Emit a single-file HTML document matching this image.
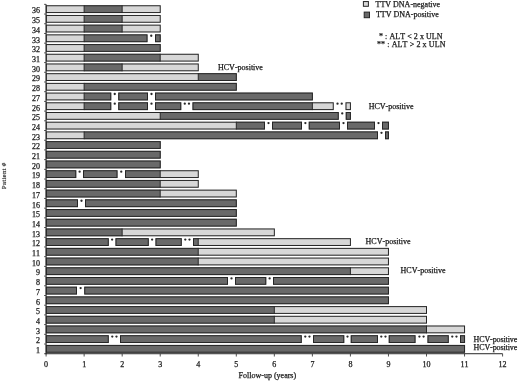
<!DOCTYPE html>
<html><head><meta charset="utf-8"><title>TTV follow-up chart</title>
<style>
html,body{margin:0;padding:0;background:#fff;}
body{width:520px;height:381px;overflow:hidden;}
svg{display:block;filter:grayscale(1);}
text{font-family:"Liberation Serif",serif;font-size:8px;font-kerning:none;fill:#1a1a1a;stroke:#1a1a1a;stroke-width:0.25px;}
</style></head>
<body>
<svg width="520" height="381" viewBox="0 0 520 381">
<rect width="520" height="381" fill="#fff"/>
<rect x="45.8" y="5.25" width="38.34" height="7.8" fill="#d7d7d7"/>
<rect x="84.14" y="5.25" width="38.04" height="7.8" fill="#696969"/>
<rect x="122.18" y="5.25" width="38.54" height="7.8" fill="#d7d7d7"/>
<line x1="84.14" y1="5.25" x2="84.14" y2="13.05" stroke="#262626" stroke-width="1"/>
<line x1="122.18" y1="5.25" x2="122.18" y2="13.05" stroke="#262626" stroke-width="1"/>
<rect x="46.3" y="5.75" width="113.92" height="6.8" fill="none" stroke="#262626" stroke-width="1"/>
<rect x="45.8" y="14.96" width="38.34" height="7.8" fill="#d7d7d7"/>
<rect x="84.14" y="14.96" width="38.04" height="7.8" fill="#696969"/>
<rect x="122.18" y="14.96" width="38.54" height="7.8" fill="#d7d7d7"/>
<line x1="84.14" y1="14.96" x2="84.14" y2="22.75" stroke="#262626" stroke-width="1"/>
<line x1="122.18" y1="14.96" x2="122.18" y2="22.75" stroke="#262626" stroke-width="1"/>
<rect x="46.3" y="15.46" width="113.92" height="6.8" fill="none" stroke="#262626" stroke-width="1"/>
<rect x="45.8" y="24.66" width="38.34" height="7.8" fill="#d7d7d7"/>
<rect x="84.14" y="24.66" width="38.04" height="7.8" fill="#696969"/>
<rect x="122.18" y="24.66" width="38.54" height="7.8" fill="#d7d7d7"/>
<line x1="84.14" y1="24.66" x2="84.14" y2="32.46" stroke="#262626" stroke-width="1"/>
<line x1="122.18" y1="24.66" x2="122.18" y2="32.46" stroke="#262626" stroke-width="1"/>
<rect x="46.3" y="25.16" width="113.92" height="6.8" fill="none" stroke="#262626" stroke-width="1"/>
<rect x="45.8" y="34.37" width="38.34" height="7.8" fill="#d7d7d7"/>
<rect x="84.14" y="34.37" width="63.36" height="7.8" fill="#696969"/>
<line x1="84.14" y1="34.37" x2="84.14" y2="42.16" stroke="#262626" stroke-width="1"/>
<rect x="46.3" y="34.87" width="100.7" height="6.8" fill="none" stroke="#262626" stroke-width="1"/>
<rect x="155" y="34.37" width="5.72" height="7.8" fill="#696969"/>
<rect x="155.5" y="34.87" width="4.72" height="6.8" fill="none" stroke="#262626" stroke-width="1"/>
<circle cx="151.25" cy="35.77" r="1.15" fill="#282828"/>
<rect x="45.8" y="44.07" width="38.34" height="7.8" fill="#d7d7d7"/>
<rect x="84.14" y="44.07" width="76.58" height="7.8" fill="#696969"/>
<line x1="84.14" y1="44.07" x2="84.14" y2="51.87" stroke="#262626" stroke-width="1"/>
<rect x="46.3" y="44.57" width="113.92" height="6.8" fill="none" stroke="#262626" stroke-width="1"/>
<rect x="45.8" y="53.77" width="38.34" height="7.8" fill="#d7d7d7"/>
<rect x="84.14" y="53.77" width="76.08" height="7.8" fill="#696969"/>
<rect x="160.22" y="53.77" width="38.54" height="7.8" fill="#d7d7d7"/>
<line x1="84.14" y1="53.77" x2="84.14" y2="61.57" stroke="#262626" stroke-width="1"/>
<line x1="160.22" y1="53.77" x2="160.22" y2="61.57" stroke="#262626" stroke-width="1"/>
<rect x="46.3" y="54.27" width="151.96" height="6.8" fill="none" stroke="#262626" stroke-width="1"/>
<rect x="45.8" y="63.48" width="38.34" height="7.8" fill="#d7d7d7"/>
<rect x="84.14" y="63.48" width="38.04" height="7.8" fill="#696969"/>
<rect x="122.18" y="63.48" width="76.58" height="7.8" fill="#d7d7d7"/>
<line x1="84.14" y1="63.48" x2="84.14" y2="71.28" stroke="#262626" stroke-width="1"/>
<line x1="122.18" y1="63.48" x2="122.18" y2="71.28" stroke="#262626" stroke-width="1"/>
<rect x="46.3" y="63.98" width="151.96" height="6.8" fill="none" stroke="#262626" stroke-width="1"/>
<rect x="45.8" y="73.19" width="152.46" height="7.8" fill="#d7d7d7"/>
<rect x="198.26" y="73.19" width="38.54" height="7.8" fill="#696969"/>
<line x1="198.26" y1="73.19" x2="198.26" y2="80.98" stroke="#262626" stroke-width="1"/>
<rect x="46.3" y="73.69" width="190" height="6.8" fill="none" stroke="#262626" stroke-width="1"/>
<rect x="45.8" y="82.89" width="38.34" height="7.8" fill="#d7d7d7"/>
<rect x="84.14" y="82.89" width="152.66" height="7.8" fill="#696969"/>
<line x1="84.14" y1="82.89" x2="84.14" y2="90.69" stroke="#262626" stroke-width="1"/>
<rect x="46.3" y="83.39" width="190" height="6.8" fill="none" stroke="#262626" stroke-width="1"/>
<rect x="45.8" y="92.59" width="38.34" height="7.8" fill="#d7d7d7"/>
<rect x="84.14" y="92.59" width="27.11" height="7.8" fill="#696969"/>
<line x1="84.14" y1="92.59" x2="84.14" y2="100.39" stroke="#262626" stroke-width="1"/>
<rect x="46.3" y="93.09" width="64.45" height="6.8" fill="none" stroke="#262626" stroke-width="1"/>
<rect x="118.25" y="92.59" width="29.75" height="7.8" fill="#696969"/>
<rect x="118.75" y="93.09" width="28.75" height="6.8" fill="none" stroke="#262626" stroke-width="1"/>
<rect x="155" y="92.59" width="157.88" height="7.8" fill="#696969"/>
<rect x="155.5" y="93.09" width="156.88" height="6.8" fill="none" stroke="#262626" stroke-width="1"/>
<circle cx="114.75" cy="94" r="1.15" fill="#282828"/>
<circle cx="151.5" cy="94" r="1.15" fill="#282828"/>
<rect x="45.8" y="102.3" width="38.34" height="7.8" fill="#d7d7d7"/>
<rect x="84.14" y="102.3" width="27.11" height="7.8" fill="#696969"/>
<line x1="84.14" y1="102.3" x2="84.14" y2="110.1" stroke="#262626" stroke-width="1"/>
<rect x="46.3" y="102.8" width="64.45" height="6.8" fill="none" stroke="#262626" stroke-width="1"/>
<rect x="118.25" y="102.3" width="29.75" height="7.8" fill="#696969"/>
<rect x="118.75" y="102.8" width="28.75" height="6.8" fill="none" stroke="#262626" stroke-width="1"/>
<rect x="155" y="102.3" width="26.25" height="7.8" fill="#696969"/>
<rect x="155.5" y="102.8" width="25.25" height="6.8" fill="none" stroke="#262626" stroke-width="1"/>
<rect x="192.5" y="102.3" width="119.88" height="7.8" fill="#696969"/>
<rect x="312.38" y="102.3" width="21.37" height="7.8" fill="#d7d7d7"/>
<line x1="312.38" y1="102.3" x2="312.38" y2="110.1" stroke="#262626" stroke-width="1"/>
<rect x="193" y="102.8" width="140.25" height="6.8" fill="none" stroke="#262626" stroke-width="1"/>
<rect x="345.5" y="102.3" width="5.42" height="7.8" fill="#d7d7d7"/>
<rect x="346" y="102.8" width="4.42" height="6.8" fill="none" stroke="#262626" stroke-width="1"/>
<circle cx="114.75" cy="103.7" r="1.15" fill="#282828"/>
<circle cx="151.5" cy="103.7" r="1.15" fill="#282828"/>
<circle cx="184.78" cy="103.7" r="1.15" fill="#282828"/>
<circle cx="188.97" cy="103.7" r="1.15" fill="#282828"/>
<circle cx="337.52" cy="103.7" r="1.15" fill="#282828"/>
<circle cx="341.73" cy="103.7" r="1.15" fill="#282828"/>
<rect x="45.8" y="112" width="114.42" height="7.8" fill="#d7d7d7"/>
<rect x="160.22" y="112" width="178.53" height="7.8" fill="#696969"/>
<line x1="160.22" y1="112" x2="160.22" y2="119.8" stroke="#262626" stroke-width="1"/>
<rect x="46.3" y="112.5" width="291.95" height="6.8" fill="none" stroke="#262626" stroke-width="1"/>
<rect x="345.75" y="112" width="5.17" height="7.8" fill="#696969"/>
<rect x="346.25" y="112.5" width="4.17" height="6.8" fill="none" stroke="#262626" stroke-width="1"/>
<circle cx="342.25" cy="113.41" r="1.15" fill="#282828"/>
<rect x="45.8" y="121.71" width="190.5" height="7.8" fill="#d7d7d7"/>
<rect x="236.3" y="121.71" width="28.7" height="7.8" fill="#696969"/>
<line x1="236.3" y1="121.71" x2="236.3" y2="129.51" stroke="#262626" stroke-width="1"/>
<rect x="46.3" y="122.21" width="218.2" height="6.8" fill="none" stroke="#262626" stroke-width="1"/>
<rect x="272" y="121.71" width="30" height="7.8" fill="#696969"/>
<rect x="272.5" y="122.21" width="29" height="6.8" fill="none" stroke="#262626" stroke-width="1"/>
<rect x="308.75" y="121.71" width="31.25" height="7.8" fill="#696969"/>
<rect x="309.25" y="122.21" width="30.25" height="6.8" fill="none" stroke="#262626" stroke-width="1"/>
<rect x="347" y="121.71" width="28" height="7.8" fill="#696969"/>
<rect x="347.5" y="122.21" width="27" height="6.8" fill="none" stroke="#262626" stroke-width="1"/>
<rect x="382" y="121.71" width="6.96" height="7.8" fill="#696969"/>
<rect x="382.5" y="122.21" width="5.96" height="6.8" fill="none" stroke="#262626" stroke-width="1"/>
<circle cx="268.5" cy="123.11" r="1.15" fill="#282828"/>
<circle cx="305.38" cy="123.11" r="1.15" fill="#282828"/>
<circle cx="343.5" cy="123.11" r="1.15" fill="#282828"/>
<circle cx="378.5" cy="123.11" r="1.15" fill="#282828"/>
<rect x="45.8" y="131.42" width="38.34" height="7.8" fill="#d7d7d7"/>
<rect x="84.14" y="131.42" width="293.86" height="7.8" fill="#696969"/>
<line x1="84.14" y1="131.42" x2="84.14" y2="139.22" stroke="#262626" stroke-width="1"/>
<rect x="46.3" y="131.92" width="331.2" height="6.8" fill="none" stroke="#262626" stroke-width="1"/>
<rect x="385" y="131.42" width="3.96" height="7.8" fill="#696969"/>
<rect x="385.5" y="131.92" width="2.96" height="6.8" fill="none" stroke="#262626" stroke-width="1"/>
<circle cx="381.5" cy="132.82" r="1.15" fill="#282828"/>
<rect x="45.8" y="141.12" width="114.92" height="7.8" fill="#696969"/>
<rect x="46.3" y="141.62" width="113.92" height="6.8" fill="none" stroke="#262626" stroke-width="1"/>
<rect x="45.8" y="150.82" width="114.92" height="7.8" fill="#696969"/>
<rect x="46.3" y="151.32" width="113.92" height="6.8" fill="none" stroke="#262626" stroke-width="1"/>
<rect x="45.8" y="160.53" width="114.92" height="7.8" fill="#696969"/>
<rect x="46.3" y="161.03" width="113.92" height="6.8" fill="none" stroke="#262626" stroke-width="1"/>
<rect x="45.8" y="170.24" width="30.45" height="7.8" fill="#696969"/>
<rect x="46.3" y="170.74" width="29.45" height="6.8" fill="none" stroke="#262626" stroke-width="1"/>
<rect x="83" y="170.24" width="34.5" height="7.8" fill="#696969"/>
<rect x="83.5" y="170.74" width="33.5" height="6.8" fill="none" stroke="#262626" stroke-width="1"/>
<rect x="125" y="170.24" width="35.22" height="7.8" fill="#696969"/>
<rect x="160.22" y="170.24" width="38.54" height="7.8" fill="#d7d7d7"/>
<line x1="160.22" y1="170.24" x2="160.22" y2="178.04" stroke="#262626" stroke-width="1"/>
<rect x="125.5" y="170.74" width="72.76" height="6.8" fill="none" stroke="#262626" stroke-width="1"/>
<circle cx="79.62" cy="171.64" r="1.15" fill="#282828"/>
<circle cx="121.25" cy="171.64" r="1.15" fill="#282828"/>
<rect x="45.8" y="179.94" width="114.42" height="7.8" fill="#696969"/>
<rect x="160.22" y="179.94" width="38.54" height="7.8" fill="#d7d7d7"/>
<line x1="160.22" y1="179.94" x2="160.22" y2="187.74" stroke="#262626" stroke-width="1"/>
<rect x="46.3" y="180.44" width="151.96" height="6.8" fill="none" stroke="#262626" stroke-width="1"/>
<rect x="45.8" y="189.65" width="114.42" height="7.8" fill="#696969"/>
<rect x="160.22" y="189.65" width="76.58" height="7.8" fill="#d7d7d7"/>
<line x1="160.22" y1="189.65" x2="160.22" y2="197.45" stroke="#262626" stroke-width="1"/>
<rect x="46.3" y="190.15" width="190" height="6.8" fill="none" stroke="#262626" stroke-width="1"/>
<rect x="45.8" y="199.35" width="32.2" height="7.8" fill="#696969"/>
<rect x="46.3" y="199.85" width="31.2" height="6.8" fill="none" stroke="#262626" stroke-width="1"/>
<rect x="85" y="199.35" width="151.8" height="7.8" fill="#696969"/>
<rect x="85.5" y="199.85" width="150.8" height="6.8" fill="none" stroke="#262626" stroke-width="1"/>
<circle cx="81.5" cy="200.75" r="1.15" fill="#282828"/>
<rect x="45.8" y="209.06" width="191" height="7.8" fill="#696969"/>
<rect x="46.3" y="209.56" width="190" height="6.8" fill="none" stroke="#262626" stroke-width="1"/>
<rect x="45.8" y="218.76" width="191" height="7.8" fill="#696969"/>
<rect x="46.3" y="219.26" width="190" height="6.8" fill="none" stroke="#262626" stroke-width="1"/>
<rect x="45.8" y="228.47" width="76.38" height="7.8" fill="#696969"/>
<rect x="122.18" y="228.47" width="152.66" height="7.8" fill="#d7d7d7"/>
<line x1="122.18" y1="228.47" x2="122.18" y2="236.27" stroke="#262626" stroke-width="1"/>
<rect x="46.3" y="228.97" width="228.04" height="6.8" fill="none" stroke="#262626" stroke-width="1"/>
<rect x="45.8" y="238.17" width="62.95" height="7.8" fill="#696969"/>
<rect x="46.3" y="238.67" width="61.95" height="6.8" fill="none" stroke="#262626" stroke-width="1"/>
<rect x="115.5" y="238.17" width="33.25" height="7.8" fill="#696969"/>
<rect x="116" y="238.67" width="32.25" height="6.8" fill="none" stroke="#262626" stroke-width="1"/>
<rect x="155.5" y="238.17" width="26.25" height="7.8" fill="#696969"/>
<rect x="156" y="238.67" width="25.25" height="6.8" fill="none" stroke="#262626" stroke-width="1"/>
<rect x="193" y="238.17" width="5.26" height="7.8" fill="#696969"/>
<rect x="198.26" y="238.17" width="152.66" height="7.8" fill="#d7d7d7"/>
<line x1="198.26" y1="238.17" x2="198.26" y2="245.97" stroke="#262626" stroke-width="1"/>
<rect x="193.5" y="238.67" width="156.92" height="6.8" fill="none" stroke="#262626" stroke-width="1"/>
<circle cx="112.12" cy="239.57" r="1.15" fill="#282828"/>
<circle cx="152.12" cy="239.57" r="1.15" fill="#282828"/>
<circle cx="185.28" cy="239.57" r="1.15" fill="#282828"/>
<circle cx="189.47" cy="239.57" r="1.15" fill="#282828"/>
<rect x="45.8" y="247.88" width="152.46" height="7.8" fill="#696969"/>
<rect x="198.26" y="247.88" width="190.7" height="7.8" fill="#d7d7d7"/>
<line x1="198.26" y1="247.88" x2="198.26" y2="255.68" stroke="#262626" stroke-width="1"/>
<rect x="46.3" y="248.38" width="342.16" height="6.8" fill="none" stroke="#262626" stroke-width="1"/>
<rect x="45.8" y="257.58" width="152.46" height="7.8" fill="#696969"/>
<rect x="198.26" y="257.58" width="190.7" height="7.8" fill="#d7d7d7"/>
<line x1="198.26" y1="257.58" x2="198.26" y2="265.38" stroke="#262626" stroke-width="1"/>
<rect x="46.3" y="258.08" width="342.16" height="6.8" fill="none" stroke="#262626" stroke-width="1"/>
<rect x="45.8" y="267.29" width="304.62" height="7.8" fill="#696969"/>
<rect x="350.42" y="267.29" width="38.54" height="7.8" fill="#d7d7d7"/>
<line x1="350.42" y1="267.29" x2="350.42" y2="275.09" stroke="#262626" stroke-width="1"/>
<rect x="46.3" y="267.79" width="342.16" height="6.8" fill="none" stroke="#262626" stroke-width="1"/>
<rect x="45.8" y="276.99" width="182.2" height="7.8" fill="#696969"/>
<rect x="46.3" y="277.49" width="181.2" height="6.8" fill="none" stroke="#262626" stroke-width="1"/>
<rect x="235" y="276.99" width="31.25" height="7.8" fill="#696969"/>
<rect x="235.5" y="277.49" width="30.25" height="6.8" fill="none" stroke="#262626" stroke-width="1"/>
<rect x="273" y="276.99" width="115.96" height="7.8" fill="#696969"/>
<rect x="273.5" y="277.49" width="114.96" height="6.8" fill="none" stroke="#262626" stroke-width="1"/>
<circle cx="231.5" cy="278.39" r="1.15" fill="#282828"/>
<circle cx="269.62" cy="278.39" r="1.15" fill="#282828"/>
<rect x="45.8" y="286.69" width="31.2" height="7.8" fill="#696969"/>
<rect x="46.3" y="287.19" width="30.2" height="6.8" fill="none" stroke="#262626" stroke-width="1"/>
<rect x="84.25" y="286.69" width="304.71" height="7.8" fill="#696969"/>
<rect x="84.75" y="287.19" width="303.71" height="6.8" fill="none" stroke="#262626" stroke-width="1"/>
<circle cx="80.62" cy="288.09" r="1.15" fill="#282828"/>
<rect x="45.8" y="296.4" width="343.16" height="7.8" fill="#696969"/>
<rect x="46.3" y="296.9" width="342.16" height="6.8" fill="none" stroke="#262626" stroke-width="1"/>
<rect x="45.8" y="306.11" width="228.54" height="7.8" fill="#696969"/>
<rect x="274.34" y="306.11" width="152.66" height="7.8" fill="#d7d7d7"/>
<line x1="274.34" y1="306.11" x2="274.34" y2="313.91" stroke="#262626" stroke-width="1"/>
<rect x="46.3" y="306.61" width="380.2" height="6.8" fill="none" stroke="#262626" stroke-width="1"/>
<rect x="45.8" y="315.81" width="228.54" height="7.8" fill="#696969"/>
<rect x="274.34" y="315.81" width="152.66" height="7.8" fill="#d7d7d7"/>
<line x1="274.34" y1="315.81" x2="274.34" y2="323.61" stroke="#262626" stroke-width="1"/>
<rect x="46.3" y="316.31" width="380.2" height="6.8" fill="none" stroke="#262626" stroke-width="1"/>
<rect x="45.8" y="325.51" width="380.7" height="7.8" fill="#696969"/>
<rect x="426.5" y="325.51" width="38.54" height="7.8" fill="#d7d7d7"/>
<line x1="426.5" y1="325.51" x2="426.5" y2="333.31" stroke="#262626" stroke-width="1"/>
<rect x="46.3" y="326.01" width="418.24" height="6.8" fill="none" stroke="#262626" stroke-width="1"/>
<rect x="45.8" y="335.22" width="62.95" height="7.8" fill="#696969"/>
<rect x="46.3" y="335.72" width="61.95" height="6.8" fill="none" stroke="#262626" stroke-width="1"/>
<rect x="120" y="335.22" width="181.75" height="7.8" fill="#696969"/>
<rect x="120.5" y="335.72" width="180.75" height="6.8" fill="none" stroke="#262626" stroke-width="1"/>
<rect x="313" y="335.22" width="31.25" height="7.8" fill="#696969"/>
<rect x="313.5" y="335.72" width="30.25" height="6.8" fill="none" stroke="#262626" stroke-width="1"/>
<rect x="350.75" y="335.22" width="27.25" height="7.8" fill="#696969"/>
<rect x="351.25" y="335.72" width="26.25" height="6.8" fill="none" stroke="#262626" stroke-width="1"/>
<rect x="388.75" y="335.22" width="26.75" height="7.8" fill="#696969"/>
<rect x="389.25" y="335.72" width="25.75" height="6.8" fill="none" stroke="#262626" stroke-width="1"/>
<rect x="427.5" y="335.22" width="21.25" height="7.8" fill="#696969"/>
<rect x="428" y="335.72" width="20.25" height="6.8" fill="none" stroke="#262626" stroke-width="1"/>
<rect x="460" y="335.22" width="5.04" height="7.8" fill="#696969"/>
<rect x="460.5" y="335.72" width="4.04" height="6.8" fill="none" stroke="#262626" stroke-width="1"/>
<circle cx="112.28" cy="336.62" r="1.15" fill="#282828"/>
<circle cx="116.47" cy="336.62" r="1.15" fill="#282828"/>
<circle cx="305.27" cy="336.62" r="1.15" fill="#282828"/>
<circle cx="309.48" cy="336.62" r="1.15" fill="#282828"/>
<circle cx="347.5" cy="336.62" r="1.15" fill="#282828"/>
<circle cx="381.27" cy="336.62" r="1.15" fill="#282828"/>
<circle cx="385.48" cy="336.62" r="1.15" fill="#282828"/>
<circle cx="419.4" cy="336.62" r="1.15" fill="#282828"/>
<circle cx="423.6" cy="336.62" r="1.15" fill="#282828"/>
<circle cx="452.27" cy="336.62" r="1.15" fill="#282828"/>
<circle cx="456.48" cy="336.62" r="1.15" fill="#282828"/>
<rect x="45.8" y="344.93" width="419.24" height="7.8" fill="#696969"/>
<rect x="46.3" y="345.43" width="418.24" height="6.8" fill="none" stroke="#262626" stroke-width="1"/>
<line x1="46.1" y1="4.35" x2="46.1" y2="354.23" stroke="#262626" stroke-width="1"/>
<line x1="45.6" y1="353.73" x2="502.58" y2="353.73" stroke="#262626" stroke-width="1"/>
<line x1="44.1" y1="4.35" x2="46.1" y2="4.35" stroke="#262626" stroke-width="0.8"/>
<line x1="44.1" y1="14.05" x2="46.1" y2="14.05" stroke="#262626" stroke-width="0.8"/>
<line x1="44.1" y1="23.76" x2="46.1" y2="23.76" stroke="#262626" stroke-width="0.8"/>
<line x1="44.1" y1="33.47" x2="46.1" y2="33.47" stroke="#262626" stroke-width="0.8"/>
<line x1="44.1" y1="43.17" x2="46.1" y2="43.17" stroke="#262626" stroke-width="0.8"/>
<line x1="44.1" y1="52.88" x2="46.1" y2="52.88" stroke="#262626" stroke-width="0.8"/>
<line x1="44.1" y1="62.58" x2="46.1" y2="62.58" stroke="#262626" stroke-width="0.8"/>
<line x1="44.1" y1="72.28" x2="46.1" y2="72.28" stroke="#262626" stroke-width="0.8"/>
<line x1="44.1" y1="81.99" x2="46.1" y2="81.99" stroke="#262626" stroke-width="0.8"/>
<line x1="44.1" y1="91.69" x2="46.1" y2="91.69" stroke="#262626" stroke-width="0.8"/>
<line x1="44.1" y1="101.4" x2="46.1" y2="101.4" stroke="#262626" stroke-width="0.8"/>
<line x1="44.1" y1="111.1" x2="46.1" y2="111.1" stroke="#262626" stroke-width="0.8"/>
<line x1="44.1" y1="120.81" x2="46.1" y2="120.81" stroke="#262626" stroke-width="0.8"/>
<line x1="44.1" y1="130.52" x2="46.1" y2="130.52" stroke="#262626" stroke-width="0.8"/>
<line x1="44.1" y1="140.22" x2="46.1" y2="140.22" stroke="#262626" stroke-width="0.8"/>
<line x1="44.1" y1="149.92" x2="46.1" y2="149.92" stroke="#262626" stroke-width="0.8"/>
<line x1="44.1" y1="159.63" x2="46.1" y2="159.63" stroke="#262626" stroke-width="0.8"/>
<line x1="44.1" y1="169.34" x2="46.1" y2="169.34" stroke="#262626" stroke-width="0.8"/>
<line x1="44.1" y1="179.04" x2="46.1" y2="179.04" stroke="#262626" stroke-width="0.8"/>
<line x1="44.1" y1="188.75" x2="46.1" y2="188.75" stroke="#262626" stroke-width="0.8"/>
<line x1="44.1" y1="198.45" x2="46.1" y2="198.45" stroke="#262626" stroke-width="0.8"/>
<line x1="44.1" y1="208.16" x2="46.1" y2="208.16" stroke="#262626" stroke-width="0.8"/>
<line x1="44.1" y1="217.86" x2="46.1" y2="217.86" stroke="#262626" stroke-width="0.8"/>
<line x1="44.1" y1="227.56" x2="46.1" y2="227.56" stroke="#262626" stroke-width="0.8"/>
<line x1="44.1" y1="237.27" x2="46.1" y2="237.27" stroke="#262626" stroke-width="0.8"/>
<line x1="44.1" y1="246.97" x2="46.1" y2="246.97" stroke="#262626" stroke-width="0.8"/>
<line x1="44.1" y1="256.68" x2="46.1" y2="256.68" stroke="#262626" stroke-width="0.8"/>
<line x1="44.1" y1="266.39" x2="46.1" y2="266.39" stroke="#262626" stroke-width="0.8"/>
<line x1="44.1" y1="276.09" x2="46.1" y2="276.09" stroke="#262626" stroke-width="0.8"/>
<line x1="44.1" y1="285.8" x2="46.1" y2="285.8" stroke="#262626" stroke-width="0.8"/>
<line x1="44.1" y1="295.5" x2="46.1" y2="295.5" stroke="#262626" stroke-width="0.8"/>
<line x1="44.1" y1="305.21" x2="46.1" y2="305.21" stroke="#262626" stroke-width="0.8"/>
<line x1="44.1" y1="314.91" x2="46.1" y2="314.91" stroke="#262626" stroke-width="0.8"/>
<line x1="44.1" y1="324.62" x2="46.1" y2="324.62" stroke="#262626" stroke-width="0.8"/>
<line x1="44.1" y1="334.32" x2="46.1" y2="334.32" stroke="#262626" stroke-width="0.8"/>
<line x1="44.1" y1="344.03" x2="46.1" y2="344.03" stroke="#262626" stroke-width="0.8"/>
<line x1="44.1" y1="353.73" x2="46.1" y2="353.73" stroke="#262626" stroke-width="0.8"/>
<line x1="46.1" y1="353.73" x2="46.1" y2="356.53" stroke="#262626" stroke-width="0.8"/>
<line x1="84.14" y1="353.73" x2="84.14" y2="356.53" stroke="#262626" stroke-width="0.8"/>
<line x1="122.18" y1="353.73" x2="122.18" y2="356.53" stroke="#262626" stroke-width="0.8"/>
<line x1="160.22" y1="353.73" x2="160.22" y2="356.53" stroke="#262626" stroke-width="0.8"/>
<line x1="198.26" y1="353.73" x2="198.26" y2="356.53" stroke="#262626" stroke-width="0.8"/>
<line x1="236.3" y1="353.73" x2="236.3" y2="356.53" stroke="#262626" stroke-width="0.8"/>
<line x1="274.34" y1="353.73" x2="274.34" y2="356.53" stroke="#262626" stroke-width="0.8"/>
<line x1="312.38" y1="353.73" x2="312.38" y2="356.53" stroke="#262626" stroke-width="0.8"/>
<line x1="350.42" y1="353.73" x2="350.42" y2="356.53" stroke="#262626" stroke-width="0.8"/>
<line x1="388.46" y1="353.73" x2="388.46" y2="356.53" stroke="#262626" stroke-width="0.8"/>
<line x1="426.5" y1="353.73" x2="426.5" y2="356.53" stroke="#262626" stroke-width="0.8"/>
<line x1="464.54" y1="353.73" x2="464.54" y2="356.53" stroke="#262626" stroke-width="0.8"/>
<line x1="502.58" y1="353.73" x2="502.58" y2="356.53" stroke="#262626" stroke-width="0.8"/>
<text x="40" y="353.12" text-anchor="end">1</text>
<text x="40" y="343.42" text-anchor="end">2</text>
<text x="40" y="333.71" text-anchor="end">3</text>
<text x="40" y="324.01" text-anchor="end">4</text>
<text x="40" y="314.31" text-anchor="end">5</text>
<text x="40" y="304.6" text-anchor="end">6</text>
<text x="40" y="294.89" text-anchor="end">7</text>
<text x="40" y="285.19" text-anchor="end">8</text>
<text x="40" y="275.49" text-anchor="end">9</text>
<text x="40" y="265.78" text-anchor="end">10</text>
<text x="40" y="256.07" text-anchor="end">11</text>
<text x="40" y="246.37" text-anchor="end">12</text>
<text x="40" y="236.67" text-anchor="end">13</text>
<text x="40" y="226.96" text-anchor="end">14</text>
<text x="40" y="217.26" text-anchor="end">15</text>
<text x="40" y="207.55" text-anchor="end">16</text>
<text x="40" y="197.85" text-anchor="end">17</text>
<text x="40" y="188.14" text-anchor="end">18</text>
<text x="40" y="178.44" text-anchor="end">19</text>
<text x="40" y="168.73" text-anchor="end">20</text>
<text x="40" y="159.03" text-anchor="end">21</text>
<text x="40" y="149.32" text-anchor="end">22</text>
<text x="40" y="139.62" text-anchor="end">23</text>
<text x="40" y="129.91" text-anchor="end">24</text>
<text x="40" y="120.2" text-anchor="end">25</text>
<text x="40" y="110.5" text-anchor="end">26</text>
<text x="40" y="100.8" text-anchor="end">27</text>
<text x="40" y="91.09" text-anchor="end">28</text>
<text x="40" y="81.39" text-anchor="end">29</text>
<text x="40" y="71.68" text-anchor="end">30</text>
<text x="40" y="61.97" text-anchor="end">31</text>
<text x="40" y="52.27" text-anchor="end">32</text>
<text x="40" y="42.56" text-anchor="end">33</text>
<text x="40" y="32.86" text-anchor="end">34</text>
<text x="40" y="23.15" text-anchor="end">35</text>
<text x="40" y="13.45" text-anchor="end">36</text>
<text x="46.1" y="367" text-anchor="middle">0</text>
<text x="84.14" y="367" text-anchor="middle">1</text>
<text x="122.18" y="367" text-anchor="middle">2</text>
<text x="160.22" y="367" text-anchor="middle">3</text>
<text x="198.26" y="367" text-anchor="middle">4</text>
<text x="236.3" y="367" text-anchor="middle">5</text>
<text x="274.34" y="367" text-anchor="middle">6</text>
<text x="312.38" y="367" text-anchor="middle">7</text>
<text x="350.42" y="367" text-anchor="middle">8</text>
<text x="388.46" y="367" text-anchor="middle">9</text>
<text x="426.5" y="367" text-anchor="middle">10</text>
<text x="464.54" y="367" text-anchor="middle">11</text>
<text x="502.58" y="367" text-anchor="middle">12</text>
<text x="238.6" y="377.5">Follow-up (years)</text>
<text transform="translate(6.2,189.2) rotate(-90)" style="font-size:7px;letter-spacing:0.22px;stroke-width:0.15px">Patient #</text>
<text x="218" y="70.3">HCV-positive</text>
<text x="368.7" y="109.3">HCV-positive</text>
<text x="365.6" y="244">HCV-positive</text>
<text x="400.6" y="273.2">HCV-positive</text>
<text x="473.5" y="341.6" letter-spacing="-0.1">HCV-positive</text>
<text x="473.5" y="349.6" letter-spacing="-0.1">HCV-positive</text>
<rect x="363.4" y="1.55" width="5.0" height="4.75" fill="#d7d7d7" stroke="#262626" stroke-width="1"/>
<rect x="364.2" y="12.1" width="5.3" height="5.6" fill="#696969" stroke="#262626" stroke-width="1"/>
<text x="375.5" y="6.7">TTV DNA-negative</text>
<text x="375.9" y="17.2">TTV DNA-positive</text>
<text x="379" y="39.2" letter-spacing="0.05">* : ALT &lt; 2 x ULN</text>
<text x="377" y="47.3" letter-spacing="0.1">** : ALT &gt; 2 x ULN</text>
</svg>
</body></html>
